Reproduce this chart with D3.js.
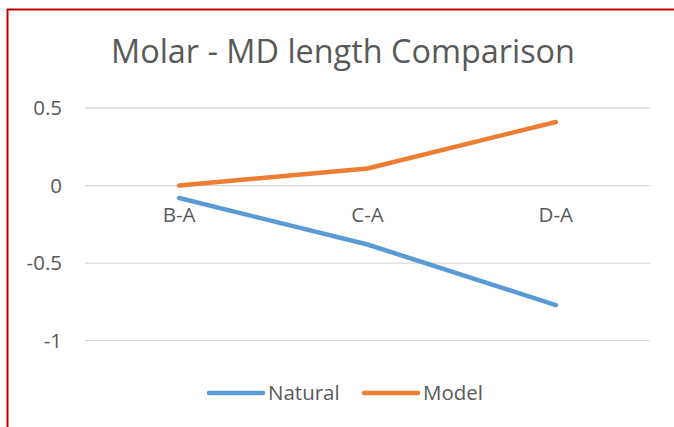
<!DOCTYPE html>
<html lang="en">
<head>
<meta charset="UTF-8">
<title>Molar - MD length Comparison</title>
<script src="https://cdn.jsdelivr.net/npm/d3@7"></script>
<style>
  body { margin: 0; background: #fff; }
  svg { display: block; font-family: "Open Sans", "Liberation Sans", sans-serif; }
</style>
</head>
<body>
<script>
// chart data
const categories = ["B-A", "C-A", "D-A"];
const natural = [-0.08, -0.38, -0.77];
const model = [0.0, 0.11, 0.41];
const yTicks = [0.5, 0, -0.5, -1];
const seriesNames = ["Natural", "Model"];

const width = 674, height = 427;
const colors = ["#5b9bd5", "#ed7d31"];

const svg = d3.select("body").append("svg")
    .attr("width", width)
    .attr("height", height);

// red frame (only top and left visible)
svg.append("path")
    .attr("d", "M7.5,427 V9.5 H674")
    .attr("fill", "none")
    .attr("stroke", "#c00000")
    .attr("stroke-width", 2);

// title
svg.append("text")
    .attr("x", 343)
    .attr("y", 63)
    .attr("text-anchor", "middle")
    .attr("fill", "#595959")
    .attr("font-size", 32.4)
    .text("Molar - MD length Comparison");

const x = d3.scaleBand().domain(categories).range([85, 650]);
const y = d3.scaleLinear().domain([-1, 0.5]).range([340.7, 108]);

// gridlines
svg.append("g")
    .selectAll("line")
    .data(yTicks)
    .join("line")
    .attr("x1", 85).attr("x2", 650)
    .attr("y1", d => y(d)).attr("y2", d => y(d))
    .attr("stroke", "#d9d9d9")
    .attr("stroke-width", 1.3);

// y axis labels (plain hyphen minus like the original)
const yAxis = svg.append("g")
    .attr("transform", "translate(62,0)")
    .call(d3.axisLeft(y).tickValues(yTicks).tickSize(0).tickPadding(0).tickFormat(d => String(d)));
yAxis.select(".domain").remove();
yAxis.selectAll("text")
    .attr("fill", "#595959")
    .attr("font-size", 20.5)
    .attr("font-family", "'Open Sans', sans-serif");

// category labels, sitting under the zero line
const xAxis = svg.append("g")
    .attr("transform", `translate(0,${y(0)})`)
    .call(d3.axisBottom(x).tickSize(0).tickPadding(22));
xAxis.select(".domain").remove();
xAxis.selectAll("text")
    .attr("fill", "#595959")
    .attr("font-size", 20.5)
    .attr("font-family", "'Open Sans', sans-serif");

// lines
const line = d3.line()
    .x((d, i) => x(categories[i]) + x.bandwidth() / 2)
    .y(d => y(d));

[natural, model].forEach((vals, i) => {
  svg.append("path")
      .datum(vals)
      .attr("d", line)
      .attr("fill", "none")
      .attr("stroke", colors[i])
      .attr("stroke-width", 4.5)
      .attr("stroke-linecap", "round")
      .attr("stroke-linejoin", "round");
});

// legend
const legendX = [209, 364];
const lg = svg.append("g").selectAll("g")
    .data(seriesNames)
    .join("g")
    .attr("transform", (d, i) => `translate(${legendX[i]},393)`);
lg.append("line")
    .attr("x1", 0).attr("x2", 54)
    .attr("stroke", (d, i) => colors[i])
    .attr("stroke-width", 4.5)
    .attr("stroke-linecap", "round");
lg.append("text")
    .attr("x", 59)
    .attr("dy", "0.35em")
    .attr("fill", "#595959")
    .attr("font-size", 20.5)
    .text(d => d);
</script>
</body>
</html>
